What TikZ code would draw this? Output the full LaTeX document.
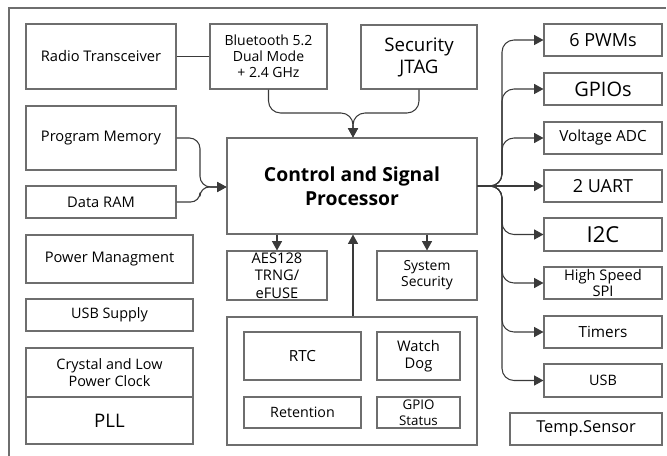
\documentclass[tikz,border=0pt]{standalone}
\usepackage{fontspec}
\setmainfont{Open Sans}
\usetikzlibrary{arrows.meta}
\definecolor{bordergray}{HTML}{6E6E6E}
\definecolor{linegray}{HTML}{3A3A3A}
\newcommand\pbox[7][]{\node[box,#1,minimum width={(#5-#3)*0.75pt},minimum height={(#6-#4)*0.75pt}] (#2) at ({(#3+#5)/2},{(#4+#6)/2}) {#7};}
\newcommand\fs[2]{\fontsize{#1}{#2}\selectfont}
\tikzset{
  box/.style={draw=bordergray, line width=0.8pt, fill=white, inner sep=0pt, align=center, font=\fs{10.8}{12.5}},
  conn/.style={draw=linegray, line width=0.8pt},
  arr/.style={conn, -{Triangle[length=7pt,width=7.5pt]}},
  big/.style={font=\fs{13.5}{16}},
  mid/.style={font=\fs{11}{12.5}},
  frame/.style={draw=bordergray, line width=0.8pt}
}
\begin{document}
\begin{tikzpicture}[x=0.75pt,y=-0.75pt]
\useasboundingbox (0,0) rectangle (667,456);
\draw[frame] (9,456) -- (9,8) -- (666,8);
% left column
\pbox[mid]{radio}{26}{24}{176}{89}{Radio Transceiver}
\pbox[font=\fs{10.5}{12}]{bt}{210}{24}{327}{89}{Bluetooth 5.2\\Dual Mode\\+ 2.4 GHz}
\pbox[font=\fs{14}{16.5}]{jtag}{361}{25}{477}{89}{Security\\JTAG}
\pbox[mid]{pm}{26}{106}{176}{170}{Program Memory}
\pbox[mid]{dr}{26}{186}{176}{218}{Data RAM}
\pbox[font=\fs{14.5}{18}\bfseries]{ctrl}{227}{138}{477}{234}{Control and Signal\\Processor}
\pbox[mid]{pwr}{26}{235}{193}{283}{Power Managment}
\pbox[font=\fs{10.8}{12.5}]{usbs}{26}{299}{193}{331}{USB Supply}
\pbox[font=\fs{10.8}{12.8}]{xtal}{26}{348}{193}{397}{Crystal and Low\\Power Clock}
\pbox[font=\fs{14}{16}]{pll}{26}{397}{193}{444}{PLL}
% centre bottom
\pbox[font=\fs{11}{13}]{aes}{227}{251}{327}{300}{AES128\\TRNG/\\eFUSE}
\pbox[font=\fs{10.4}{12}]{sec}{377}{251}{477}{300}{System\\Security}
\pbox{lowp}{227}{317}{477}{445}{}
\pbox[font=\fs{11.5}{13}]{rtc}{244}{332}{361}{380}{RTC}
\pbox[font=\fs{10.7}{12.5}]{ret}{244}{397}{361}{428}{Retention}
\pbox[font=\fs{11}{12.8}]{wd}{377}{332}{460}{380}{Watch\\Dog}
\pbox[font=\fs{10}{12}]{gst}{377}{397}{460}{428}{GPIO\\Status}
% right column
\pbox[big]{pwm}{544}{24}{662}{56}{6 PWMs}
\pbox[font=\fs{15}{16}]{gpio}{544}{73}{662}{105}{GPIOs}
\pbox[font=\fs{11.5}{13}]{adc}{544}{122}{662}{154}{Voltage ADC}
\pbox[big]{uart}{544}{170}{662}{202}{2 UART}
\pbox[font=\fs{16.5}{18}]{i2c}{544}{218}{662}{251}{I2C}
\pbox[font=\fs{11}{11.5}]{spi}{544}{267}{662}{299}{High Speed\\SPI}
\pbox[font=\fs{11.5}{13}]{tim}{544}{316}{662}{348}{Timers}
\pbox{usb}{544}{364}{662}{397}{USB}
\pbox[font=\fs{12.3}{14}]{temp}{510}{413}{662}{445}{Temp.Sensor}
% connectors
\coordinate (tj) at (353,113);
\coordinate (lj) at (200,187);
\coordinate (trunk) at (502,186);
\draw[conn] (radio.east) -- (bt.west);
\draw[arr,rounded corners=9] (bt.south) |- (tj) -- (tj |- ctrl.north);
\draw[arr,rounded corners=9] (jtag.south) |- (tj) -- (tj |- ctrl.north);
\draw[arr,rounded corners=8] (pm.east) -| (lj) -- (lj -| ctrl.west);
\draw[arr,rounded corners=7] (dr.east) -| (lj) -- (lj -| ctrl.west);
\draw[arr] (aes.north |- ctrl.south) -- (aes.north);
\draw[arr] (sec.north |- ctrl.south) -- (sec.north);
\draw[arr] (tj |- lowp.north) -- (tj |- ctrl.south);
\foreach \n in {pwm,gpio,adc,i2c,spi,tim,usb}
  \draw[arr,rounded corners=9] (ctrl.east) -| (trunk |- \n.west) -- (\n.west);
\draw[arr] (ctrl.east) -- (uart.west);
\end{tikzpicture}
\end{document}
